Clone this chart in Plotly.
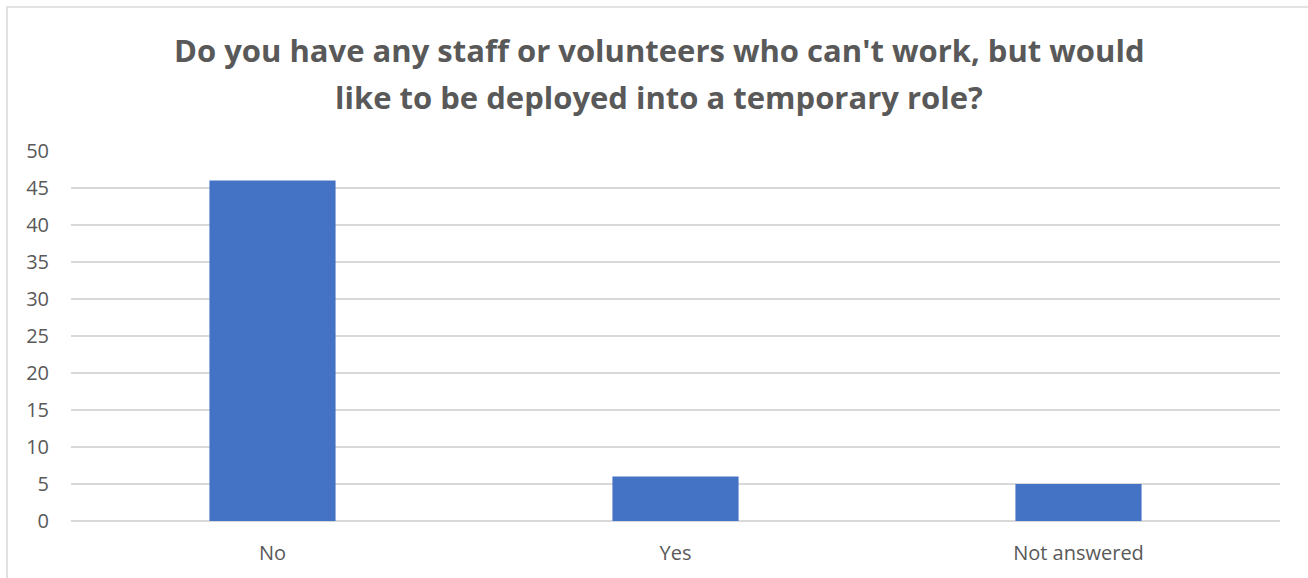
import plotly.graph_objects as go

categories = ["No", "Yes", "Not answered"]
counts = [46, 6, 5]
y_ticks = [0, 5, 10, 15, 20, 25, 30, 35, 40, 45, 50]
title_lines = [
    "Do you have any staff or volunteers who can't work, but would",
    "like to be deployed into a temporary role?",
]

W, H = 1308, 578
L, R, T, B = 71, 28, 151, 57
pw, ph = W - L - R, H - T - B

fig = go.Figure(
    go.Bar(
        x=categories,
        y=counts,
        width=0.313,
        marker=dict(color="#4472C4", line=dict(width=0)),
    )
)

fig.update_layout(
    width=W,
    height=H,
    margin=dict(l=L, r=R, t=T, b=B),
    paper_bgcolor="white",
    plot_bgcolor="white",
    showlegend=False,
    font=dict(family="Open Sans, Noto Sans, sans-serif", color="#595959", size=20),
    xaxis=dict(
        showgrid=False,
        showline=False,
        ticks="",
        ticklabelstandoff=18,
        tickfont=dict(size=20, color="#595959"),
    ),
    yaxis=dict(
        range=[0, 50],
        tickvals=y_ticks,
        showgrid=True,
        gridcolor="#D9D9D9",
        gridwidth=1.5,
        zeroline=True,
        zerolinecolor="#D9D9D9",
        zerolinewidth=1.5,
        showline=False,
        ticks="",
        ticklabelstandoff=21,
        tickfont=dict(size=20, color="#595959"),
    ),
)

# two-line bold title, each line placed on its own
for line, cy in zip(title_lines, [50, 97]):
    fig.add_annotation(
        text=line,
        xref="paper",
        yref="paper",
        x=(659 - L) / pw,
        y=1 + (T - cy) / ph,
        xanchor="center",
        yanchor="middle",
        showarrow=False,
        font=dict(family="Open Sans, sans-serif", size=31, color="#595959", weight="bold"),
    )

# chart frame
fig.add_shape(
    type="rect",
    xref="paper",
    yref="paper",
    x0=(7 - L) / pw,
    x1=(W + 10 - L) / pw,
    y0=-(B + 10) / ph,
    y1=1 + (T - 7) / ph,
    line=dict(color="#D9D9D9", width=1.5),
    fillcolor="rgba(0,0,0,0)",
    layer="below",
)

fig.write_html("out.html")
